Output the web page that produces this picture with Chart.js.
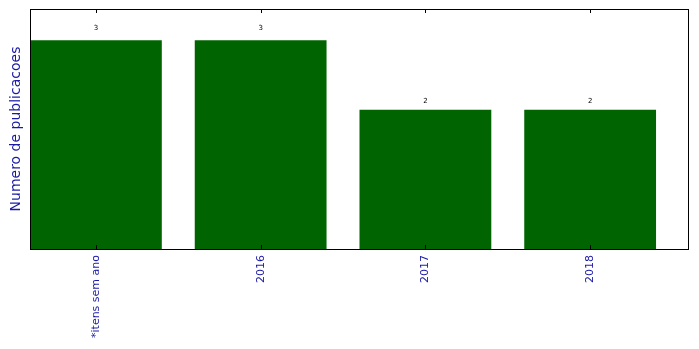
<!DOCTYPE html>
<html><head><meta charset="utf-8">
<script src="https://cdn.jsdelivr.net/npm/chart.js@4"></script>
<style>html,body{margin:0;padding:0;background:#fff}#wrap{width:699px;height:349px}</style>
</head><body><div id="wrap"><canvas id="c" width="699" height="349"></canvas></div>
<script>
const categories = ["*itens sem ano", "2016", "2017", "2018"];
const values = [3, 3, 2, 2];
const yMax = 3.45;
const yTitle = "Numero de publicacoes";

const points = values.map((v, i) => ({x: i, y: v}));

const framePlugin = {
  id: 'frame',
  afterDatasetsDraw(chart) {
    const {ctx, chartArea: a, scales: {x, y}} = chart;
    ctx.save();
    ctx.strokeStyle = '#000';
    ctx.lineWidth = 1;
    ctx.beginPath();
    categories.forEach((c, i) => {
      const px = Math.round(x.getPixelForValue(i)) + 0.5;
      ctx.moveTo(px, a.top); ctx.lineTo(px, a.top + 4);
      ctx.moveTo(px, a.bottom); ctx.lineTo(px, a.bottom - 4);
    });
    ctx.stroke();
    ctx.strokeRect(a.left + 0.5, a.top + 0.5, a.right - a.left - 1, a.bottom - a.top);
    ctx.fillStyle = '#000';
    ctx.font = '7px "DejaVu Sans"';
    ctx.textAlign = 'center';
    ctx.textBaseline = 'bottom';
    values.forEach((v, i) => {
      ctx.fillText(String(v), x.getPixelForValue(i), y.getPixelForValue(v * 1.05) + 2);
    });
    ctx.restore();
  }
};

new Chart(document.getElementById('c'), {
  type: 'bar',
  data: {
    datasets: [{
      data: points,
      backgroundColor: '#006400',
      borderWidth: 0,
      categoryPercentage: 1,
      barPercentage: 0.8
    }]
  },
  options: {
    responsive: false,
    animation: false,
    events: [],
    layout: {padding: {top: 9, right: 10, left: 0, bottom: 0}},
    plugins: {legend: {display: false}, tooltip: {enabled: false}},
    scales: {
      x: {
        type: 'linear',
        min: -0.4, max: 3.6,
        offset: false,
        grid: {display: false, drawTicks: false},
        border: {display: false},
        afterBuildTicks(s) { s.ticks = categories.map((c, i) => ({value: i})); },
        afterFit(s) { s.height = 100; },
        ticks: {
          autoSkip: false,
          minRotation: 90, maxRotation: 90,
          padding: 6,
          color: '#1a1aa6',
          font: {family: 'DejaVu Sans', size: 11},
          callback: (v) => categories[v] ?? ''
        }
      },
      y: {
        min: 0, max: yMax,
        grid: {display: false, drawTicks: false},
        border: {display: false},
        ticks: {display: false},
        afterFit(s) { s.width = 30; },
        title: {
          display: true, text: yTitle,
          color: '#1a1aa6',
          font: {family: 'DejaVu Sans', size: 14},
          padding: {top: 8, bottom: 0}
        }
      }
    }
  },
  plugins: [framePlugin]
});
</script></body></html>
